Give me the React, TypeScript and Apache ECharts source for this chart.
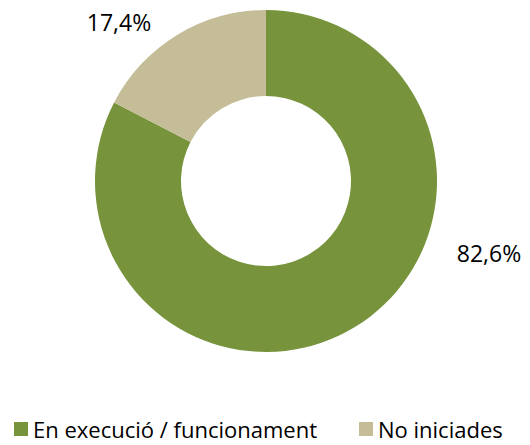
import React, { useEffect, useRef } from "react";
import * as echarts from "echarts";

const categories = ["En execució / funcionament", "No iniciades"];
const values = [82.6, 17.4];
const colors = ["#77933C", "#C4BD97"];

export default function App() {
  const ref = useRef<HTMLDivElement>(null);
  useEffect(() => {
    const chart = echarts.init(ref.current!, null, { renderer: "svg" });
    const labelPos = [
      { x: 489, y: 253 },
      { x: 119, y: 22 },
    ];
    chart.setOption({
      animation: false,
      backgroundColor: "#ffffff",
      legend: {
        top: 418,
        left: 14,
        width: 516,
        padding: 0,
        orient: "horizontal",
        itemWidth: 14,
        itemHeight: 14,
        itemGap: 42,
        itemStyle: { borderWidth: 0 },
        icon: "rect",
        textStyle: { fontFamily: "Open Sans", fontSize: 22, lineHeight: 22, color: "#000" },
        data: categories,
      },
      series: [
        {
          type: "pie",
          center: [266, 181],
          radius: [85, 171],
          startAngle: 90,
          clockwise: true,
          silent: true,
          data: categories.map((c, i) => ({
            name: c,
            value: values[i],
            itemStyle: { color: colors[i] },
          })),
          label: {
            show: true,
            position: "outside",
            formatter: (p: any) => p.value.toFixed(1).replace(".", ",") + "%",
            fontFamily: "Open Sans",
            fontSize: 23,
            color: "#000",
          },
          labelLine: { show: false },
          labelLayout: (p: any) => ({
            x: labelPos[p.dataIndex].x,
            y: labelPos[p.dataIndex].y,
            align: "center",
            verticalAlign: "middle",
          }),
        },
      ],
    });
    return () => chart.dispose();
  }, []);
  return (
    <div
      ref={ref}
      style={{ position: "fixed", left: 0, top: 0, width: 530, height: 445 }}
    />
  );
}
